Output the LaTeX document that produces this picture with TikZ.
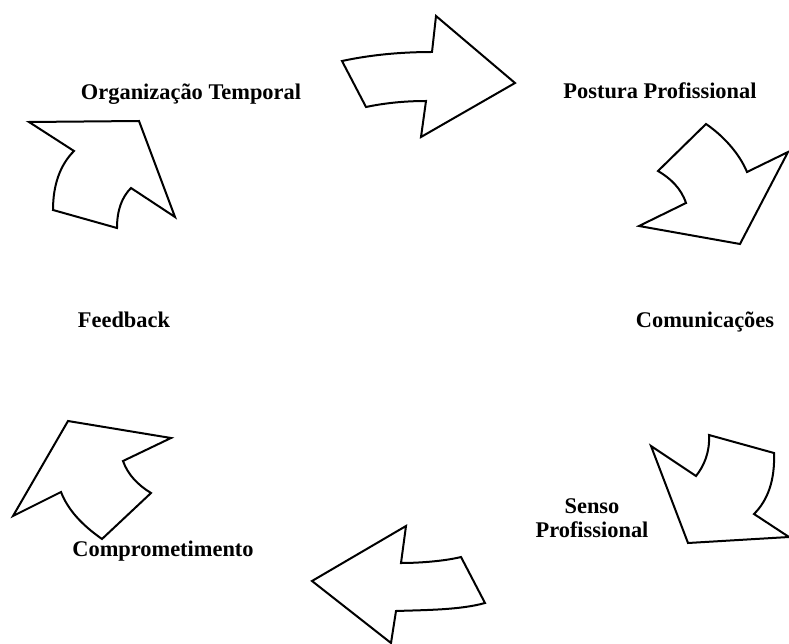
\documentclass[tikz,border=0pt]{standalone}
\usepackage{fontspec}
\setmainfont{Liberation Serif}
\begin{document}
\begin{tikzpicture}[x=1pt,y=-1pt,
  lbl/.style={font=\fontsize{22.4}{23.5}\selectfont\bfseries, inner sep=0pt, anchor=base, align=center},
  arr/.style={draw=black, line width=2pt, line join=miter, fill=white}]
\useasboundingbox (0,0) rectangle (789,644);
% labels
\node[lbl] (org) at (191,100) {Organização Temporal};
\node[lbl] (pos) at (660,98.5) {Postura Profissional};
\node[lbl] (com) at (705,327) {Comunicações};
\node[lbl] (fee) at (124,327) {Feedback};
\node[lbl] (sen) at (592,537) {Senso\\Profissional};
\node[lbl] (cmp) at (163,556) {Comprometimento};
% arrow 1 (top, pointing right)
\draw[arr] (342,61) .. controls (370,55) and (400,52) .. (432,52)
  -- (436,16) -- (515,83) -- (421,137) -- (426,101)
  .. controls (405,101) and (385,103) .. (366,107) -- cycle;
% arrow 2 (upper right, pointing down)
\draw[arr] (706,124) .. controls (725,137) and (740,155) .. (747,172)
  -- (788,152) -- (740,244) -- (639,226) -- (686,203)
  .. controls (681,188) and (670,178) .. (658,171) -- cycle;
% arrow 3 (lower right, pointing down-left)
\draw[arr] (651,446) -- (696,476)
  .. controls (704,466) and (710,452) .. (709,435)
  -- (774,453) .. controls (775,480) and (768,500) .. (754,514)
  -- (789,537) -- (688,543) -- cycle;
% arrow 4 (bottom, pointing left)
\draw[arr] (406,526) -- (401,563)
  .. controls (420,563) and (445,561) .. (461,557)
  -- (485,603) .. controls (460,610) and (425,610) .. (396,611)
  -- (391,643) -- (312,581) -- cycle;
% arrow 5 (lower left, pointing up)
\draw[arr] (68,421) -- (171,438) -- (123,461)
  .. controls (128,475) and (138,485) .. (151,493)
  -- (102,539) .. controls (82,525) and (68,510) .. (61,492)
  -- (13,516) -- cycle;
% arrow 6 (upper left, pointing up-right)
\draw[arr] (29,122) -- (74,151)
  .. controls (60,165) and (53,185) .. (53,210)
  -- (117,228) .. controls (117,210) and (122,197) .. (131,188)
  -- (175,217) -- (139,121) -- cycle;
\end{tikzpicture}
\end{document}
